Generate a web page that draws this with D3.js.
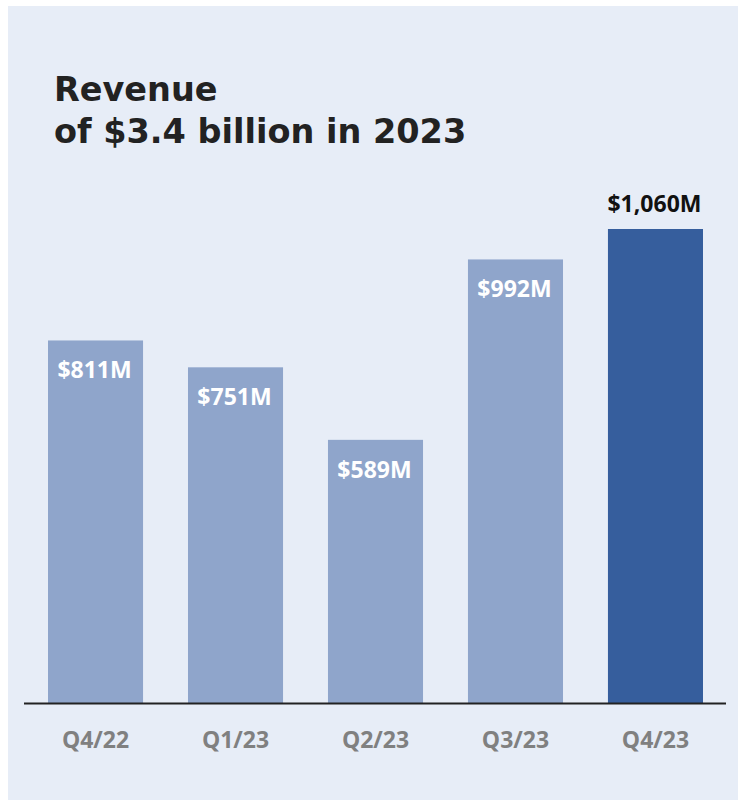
<!DOCTYPE html>
<html><head><meta charset="utf-8">
<script src="https://cdn.jsdelivr.net/npm/d3@7"></script>
<style>html,body{margin:0;padding:0;background:#fff;}svg{display:block;}</style>
</head><body>
<svg id="c" width="739" height="800"></svg>
<script>
const categories = ["Q4/22","Q1/23","Q2/23","Q3/23","Q4/23"];
const revenue = [811, 751, 589, 992, 1060];
const labels = ["$811M","$751M","$589M","$992M","$1,060M"];
const titleLines = ["Revenue","of $3.4 billion in 2023"];

const svg = d3.select("#c");
svg.append("rect").attr("x",8).attr("y",6).attr("width",730).attr("height",794).attr("fill","#E7EDF7");

const base = 703.5;
const x = d3.scaleBand().domain(categories).range([48,703]).paddingInner(0.321).paddingOuter(0);
const y = d3.scaleLinear().domain([0,1060]).range([base,229]);

const tg = svg.append("g");
titleLines.forEach((t,i)=>{
  tg.append("text").attr("x",54).attr("y",101+i*42).text(t)
    .attr("font-family","DejaVu Sans").attr("font-weight","bold").attr("font-size",33.5)
    .attr("fill","#222");
});

const last = categories.length-1;
svg.append("g").selectAll("rect").data(categories).join("rect")
  .attr("x",d=>x(d)).attr("width",x.bandwidth())
  .attr("y",(d,i)=>y(revenue[i])).attr("height",(d,i)=>base-y(revenue[i]))
  .attr("fill",(d,i)=>i===last?"#365E9D":"#8FA5CB");

svg.append("g").selectAll("text").data(categories).join("text")
  .attr("x",d=>x(d)+x.bandwidth()/2 - 1)
  .attr("y",(d,i)=>i===last? y(revenue[i])-17 : y(revenue[i])+38)
  .attr("text-anchor","middle")
  .attr("font-family","Open Sans").attr("font-weight","bold").attr("font-size",23)
  .attr("fill",(d,i)=>i===last?"#111":"#fff")
  .text((d,i)=>labels[i]);

const axis = d3.axisBottom(x).tickSize(0).tickPadding(0);
const ag = svg.append("g").attr("transform",`translate(0,${base})`).call(axis);
ag.select(".domain").attr("d","M24,0H726").attr("stroke","#222").attr("stroke-width",2);
ag.selectAll(".tick text").attr("y",44).attr("dy",null)
  .attr("font-family","Open Sans").attr("font-weight","bold").attr("font-size",23)
  .attr("fill","#808080");
</script>
</body></html>
